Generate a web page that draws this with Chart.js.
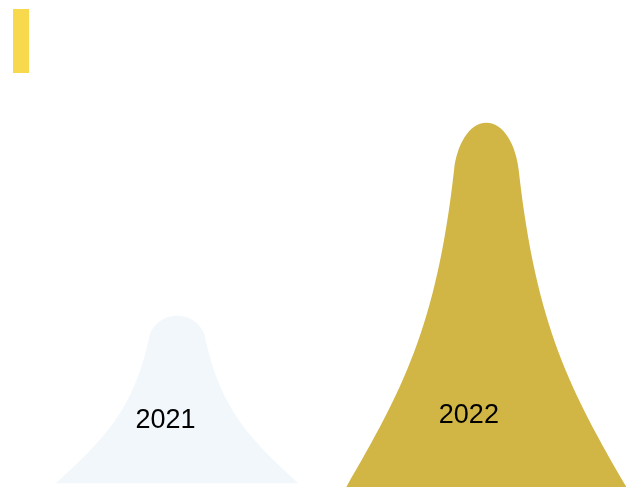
<!DOCTYPE html>
<html>
<head>
<meta charset="utf-8">
<script src="https://cdn.jsdelivr.net/npm/chart.js@4"></script>
<style>
html, body { margin: 0; padding: 0; background: #fff; overflow: hidden; }
#wrap { width: 641px; height: 487px; }
</style>
</head>
<body>
<div id="wrap"><canvas id="chart"></canvas></div>
<script>
var years = ['2021', '2022']
var values = [46, 100]
var colors = ['#F2F7FB', '#D1B545']

// draws each bar as a rounded mountain shape
var mountainPlugin = {
    id: 'mountain',
    beforeDraw: function (chart) {
        var ctx = chart.ctx
        ctx.save()
        ctx.fillStyle = '#F8D84C'
        ctx.fillRect(13, 9, 16, 64)
        ctx.restore()
    },
    afterDatasetsDraw: function (chart) {
        var ctx = chart.ctx
        var meta = chart.getDatasetMeta(0)
        var maxVal = Math.max.apply(null, values)

        meta.data.forEach(function (bar, i) {
            var ratio = values[i] / maxVal
            var cx = bar.x
            var top = bar.y
            var h = bar.base - top
            var bottom = bar.base + h * 0.02
            var hw = bar.width / 2 * (0.75 + 0.25 * ratio)
            var tw = hw * 0.23
            var capH = h * 0.13
            var sY = top + capH
            var D = bottom - sY
            var W = hw - tw
            var lean = 0.33 * (W / D) * capH * 0.5

            ctx.save()
            ctx.fillStyle = colors[i]
            ctx.beginPath()
            ctx.moveTo(cx - hw, bottom)
            ctx.bezierCurveTo(cx - hw + 0.51 * W, bottom - 0.3 * D, cx - hw + 0.835 * W, bottom - 0.5 * D, cx - tw, sY)
            ctx.bezierCurveTo(cx - tw + lean, sY - capH * 0.5, cx - tw * 0.55, top, cx, top)
            ctx.bezierCurveTo(cx + tw * 0.55, top, cx + tw - lean, sY - capH * 0.5, cx + tw, sY)
            ctx.bezierCurveTo(cx + hw - 0.835 * W, bottom - 0.5 * D, cx + hw - 0.51 * W, bottom - 0.3 * D, cx + hw, bottom)
            ctx.closePath()
            ctx.fill()

            ctx.fillStyle = '#000'
            ctx.font = '27px "Liberation Sans", Arial, sans-serif'
            ctx.textAlign = 'center'
            ctx.textBaseline = 'middle'
            ctx.fillText(years[i], cx - hw * (0.07 + 0.055 * ratio), bar.base - 55 - h * 0.026)
            ctx.restore()
        })
    }
}

new Chart(document.getElementById('chart'), {
    type: 'bar',
    data: {
        labels: years,
        datasets: [{
            data: values,
            backgroundColor: 'rgba(0,0,0,0)',
            categoryPercentage: 1,
            barPercentage: 0.906
        }]
    },
    options: {
        responsive: true,
        maintainAspectRatio: false,
        animation: false,
        layout: {
            padding: { left: 22.5, right: 0, top: 80, bottom: 7 }
        },
        plugins: {
            legend: { display: false },
            tooltip: { enabled: false }
        },
        scales: {
            x: { display: false },
            y: { display: false, min: 0, max: 112 }
        }
    },
    plugins: [mountainPlugin]
})
</script>
</body>
</html>
